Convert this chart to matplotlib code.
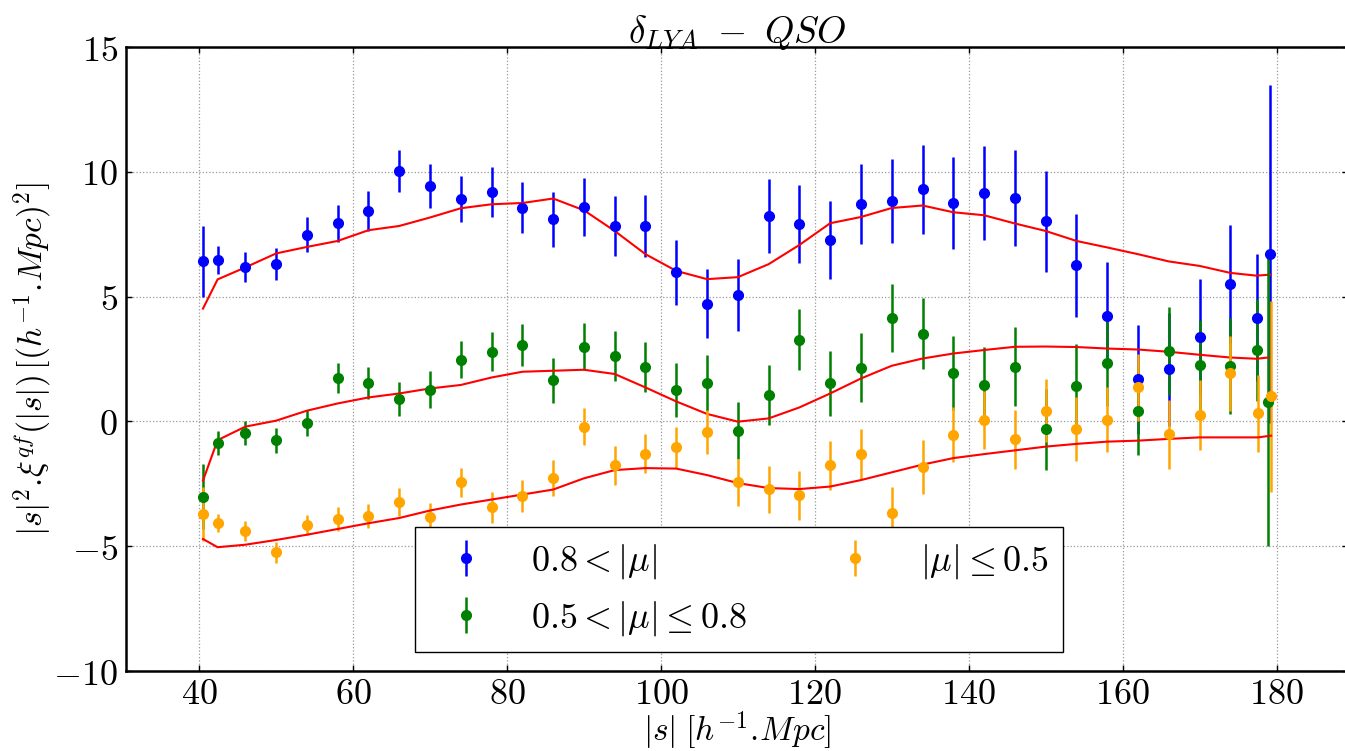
import matplotlib
matplotlib.use("Agg")
import matplotlib.pyplot as plt
from matplotlib.ticker import FuncFormatter

# --- data ---
s_common = [40.5, 42.4, 46, 50, 54, 58, 62, 66, 70, 74, 78, 82, 86, 90, 94, 98,
            102, 106, 110, 114, 118, 122, 126, 130, 134, 138, 142, 146, 150, 154,
            158, 162, 166, 170, 174]
s_blue = s_common + [177.4, 179.2]
s_green = s_common + [177.4, 178.9]
s_orange = s_common + [177.6, 179.3]

xi_blue = [6.41, 6.46, 6.17, 6.30, 7.47, 7.93, 8.43, 10.04, 9.42, 8.90, 9.20, 8.57,
           8.10, 8.60, 7.83, 7.82, 5.97, 4.71, 5.07, 8.23, 7.90, 7.27, 8.70, 8.82,
           9.30, 8.75, 9.16, 8.94, 8.01, 6.25, 4.23, 1.68, 2.08, 3.39, 5.51, 4.15, 6.71]
err_blue = [1.42, 0.56, 0.60, 0.64, 0.70, 0.75, 0.80, 0.85, 0.88, 0.93, 1.00, 1.04,
            1.10, 1.16, 1.20, 1.25, 1.30, 1.38, 1.43, 1.47, 1.56, 1.58, 1.60, 1.68,
            1.79, 1.85, 1.89, 1.92, 2.04, 2.06, 2.15, 2.20, 2.25, 2.30, 2.35, 2.54, 6.77]
model_blue = [4.52, 5.69, 6.17, 6.73, 6.99, 7.23, 7.66, 7.83, 8.17, 8.54, 8.70, 8.75,
              8.93, 8.46, 7.63, 6.70, 6.03, 5.70, 5.78, 6.30, 7.07, 7.94, 8.19, 8.55,
              8.65, 8.38, 8.26, 7.93, 7.63, 7.23, 6.97, 6.70, 6.41, 6.23, 5.95, 5.84, 5.88]

xi_green = [-3.01, -0.87, -0.48, -0.76, -0.07, 1.74, 1.54, 0.88, 1.26, 2.48, 2.79, 3.07,
            1.64, 2.99, 2.62, 2.18, 1.26, 1.54, -0.37, 1.07, 3.28, 1.52, 2.16, 4.14,
            3.52, 1.94, 1.46, 2.20, -0.32, 1.43, 2.35, 0.42, 2.83, 2.26, 2.22, 2.86, 0.79]
err_green = [1.30, 0.47, 0.48, 0.51, 0.53, 0.61, 0.64, 0.68, 0.74, 0.76, 0.79, 0.84,
             0.90, 0.95, 0.99, 1.01, 1.08, 1.14, 1.13, 1.20, 1.24, 1.31, 1.38, 1.37,
             1.43, 1.49, 1.53, 1.59, 1.63, 1.69, 1.72, 1.78, 1.77, 1.82, 1.92, 2.06, 5.78]
model_green = [-2.37, -0.75, -0.21, 0.03, 0.43, 0.72, 0.96, 1.12, 1.32, 1.46, 1.76, 1.99,
               2.03, 2.07, 1.90, 1.36, 0.80, 0.30, -0.01, 0.12, 0.56, 1.12, 1.72, 2.23,
               2.52, 2.72, 2.86, 2.99, 3.00, 2.98, 2.92, 2.88, 2.79, 2.67, 2.56, 2.51, 2.56]

xi_orange = [-3.71, -4.07, -4.38, -5.24, -4.15, -3.92, -3.79, -3.23, -3.84, -2.44, -3.44,
             -2.97, -2.27, -0.21, -1.75, -1.29, -1.04, -0.43, -2.44, -2.71, -2.95, -1.75,
             -1.31, -3.68, -1.81, -0.54, 0.06, -0.72, 0.43, -0.31, 0.07, 1.36, -0.51,
             0.26, 1.92, 0.32, 1.00]
err_orange = [1.10, 0.38, 0.40, 0.42, 0.40, 0.48, 0.50, 0.55, 0.57, 0.59, 0.61, 0.64,
              0.72, 0.73, 0.78, 0.79, 0.83, 0.87, 0.93, 0.94, 0.98, 0.98, 1.00, 1.07,
              1.08, 1.10, 1.15, 1.18, 1.27, 1.27, 1.31, 1.35, 1.38, 1.41, 1.50, 1.53, 3.84]
model_orange = [-4.71, -5.04, -4.94, -4.75, -4.54, -4.31, -4.08, -3.87, -3.57, -3.33,
                -3.13, -2.93, -2.73, -2.28, -1.95, -1.87, -1.89, -2.15, -2.47, -2.67,
                -2.71, -2.61, -2.35, -2.04, -1.73, -1.47, -1.31, -1.16, -1.01, -0.90,
                -0.81, -0.77, -0.70, -0.64, -0.64, -0.64, -0.57]

x_ticks = [40, 60, 80, 100, 120, 140, 160, 180]
y_ticks = [-10, -5, 0, 5, 10, 15]

# --- style ---
plt.rcParams['font.family'] = 'serif'
plt.rcParams['font.serif'] = ['DejaVu Serif']
plt.rcParams['mathtext.fontset'] = 'cm'

fig = plt.figure(figsize=(13.45, 7.51), dpi=100)
ax = fig.add_axes([0.0937, 0.1065, 0.9086, 0.8309])

series = [
    (s_blue, xi_blue, err_blue, model_blue, 'blue', r'$0.8<|\mu|$'),
    (s_green, xi_green, err_green, model_green, 'green', r'$0.5<|\mu|\leq0.8$'),
    (s_orange, xi_orange, err_orange, model_orange, 'orange', r'$|\mu|\leq0.5$'),
]
for s, xi, err, model, col, lab in series:
    ax.errorbar(s, xi, yerr=err, fmt='o', color=col, ecolor=col, mec=col,
                markersize=7, elinewidth=1.8, capsize=0, label=lab)
    ax.plot(s, model, color='red', linewidth=1.5)

ax.set_xlim(30.5, 189.3)
ax.set_ylim(-10, 15)
ax.set_xticks(x_ticks)
ax.set_yticks(y_ticks)
fmt = FuncFormatter(lambda v, p: r'$%g$' % v)
ax.xaxis.set_major_formatter(fmt)
ax.yaxis.set_major_formatter(fmt)
ax.tick_params(axis='both', which='major', labelsize=26, direction='in',
               top=True, right=True, length=4, width=1, pad=6)
ax.tick_params(axis='x', pad=4)
ax.grid(True, linestyle=':', color='#999999', linewidth=0.9)
for sp in ax.spines.values():
    sp.set_linewidth(1.8)

ax.set_title(r'$\delta_{LYA}\ -\ QSO$', fontsize=27, pad=3)
ax.set_xlabel(r'$|s|\;[h^{-1}.\!Mpc]$', fontsize=24, labelpad=-1)
ax.set_ylabel(r'$|s|^2.\!\xi^{qf}(|s|)\,[(h^{-1}.\!Mpc)^2]$', fontsize=24, labelpad=0)

ax.legend(loc='lower left', bbox_to_anchor=(0.2365, 0.030), borderaxespad=0,
          ncol=2, fontsize=26, numpoints=1, fancybox=False, framealpha=1,
          edgecolor='black', handletextpad=0.8, columnspacing=2.0)

fig.savefig('out.png', dpi=100)
